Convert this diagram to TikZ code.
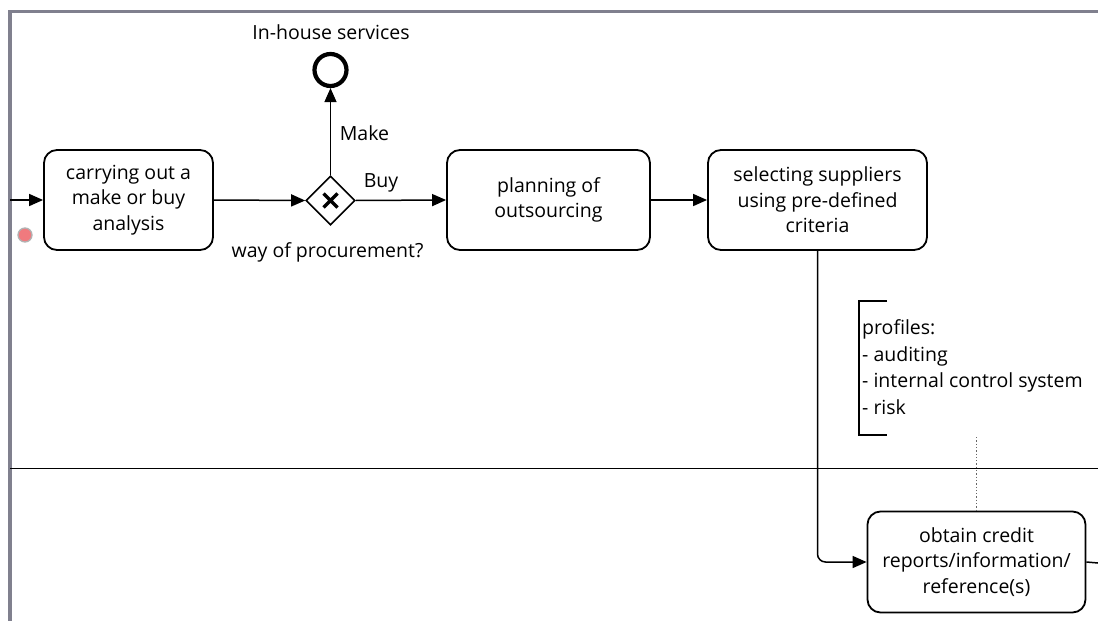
\documentclass[tikz,border=0pt]{standalone}
\usepackage{fontspec}
\setmainfont{Open Sans}
\usetikzlibrary{arrows.meta,shapes.geometric,positioning,calc}
\definecolor{poolgray}{HTML}{80808E}
\definecolor{loopred}{HTML}{F07A7E}
\begin{document}
\begin{tikzpicture}[x=1pt,y=-1pt,
  task/.style={draw,rounded corners=13pt,line width=1.8pt,align=center,
    inner sep=0pt,font=\fontsize{19.5}{25.5}\selectfont},
  flow/.style={line width=1.5pt,-{Triangle[length=14pt,width=12pt]}},
  lbl/.style={font=\fontsize{19.5}{25}\selectfont,inner sep=0pt},
]
\useasboundingbox (0,0) rectangle (1098,621);
% pool frame
\draw[poolgray,line width=3.5pt] (10,621) -- (10,11.5) -- (1098,11.5);
% lane divider
\draw[line width=1.7pt] (10,468.5) -- (1098,468.5);

% tasks
\node[task,minimum width=169pt,minimum height=100pt] (t1) at (128.5,200)
  {carrying out a\\make or buy\\analysis};
\node[task,minimum width=203pt,minimum height=100pt] (t2) at (548.5,200)
  {planning of\\outsourcing};
\node[task,minimum width=219pt,minimum height=100pt] (t3) at (817.5,200)
  {selecting suppliers\\using pre-defined\\criteria};
\node[task,minimum width=218pt,minimum height=101pt] (t4) at (976.5,562)
  {obtain credit\\reports/information/\\reference(s)};

% gateway
\node[draw,diamond,line width=1.6pt,minimum width=49pt,minimum height=49pt,inner sep=0pt] (gw) at (330.5,200.5) {};
\draw[line width=3.4pt] ($(gw.center)+(-7,-7)$) -- ($(gw.center)+(7,7)$)
  ($(gw.center)+(-7,7)$) -- ($(gw.center)+(7,-7)$);

% end event
\node[draw,circle,line width=4.2pt,minimum size=32pt,inner sep=0pt] (end) at (330.5,70) {};

% loop marker
\node[circle,fill=loopred,draw=gray!60,line width=1.3pt,minimum size=14pt,inner sep=0pt] (loop) at (25,235) {};

% labels
\node[lbl] (inh) at (331,32) {In-house services};
\node[lbl] (make) at (364.5,133) {Make};
\node[lbl] (buy) at (381,183) {Buy};
\node[lbl] (wop) at (327.5,252) {way of procurement?};

% annotation
\coordinate (anT) at (887,301);
\coordinate (anB) at (887,435);
\draw[line width=1.5pt] (anT) -- (859,301) -- (859,435) -- (anB);
\node[anchor=west,align=left,inner sep=0pt,font=\fontsize{19.5}{26.5}\selectfont] (ann) at (862,367)
  {profiles:\\- auditing\\- internal control system\\- risk};
\coordinate (dotT) at (976.5,437);
\draw[line width=1.3pt,dotted,gray!80!black] (dotT) -- (t4.north);

% connectors
\coordinate (inL) at (10,200);
\coordinate (outR) at (1098,563);
\draw[flow] (inL) -- (t1.west);
\draw[flow] (t1.east) -- (gw.west);
\draw[flow] (gw.east) -- (t2.west);
\draw[flow] (gw.north) -- (end.south);
\draw[flow] (t2.east) -- (t3.west);
\draw[flow,rounded corners=8pt] (t3.south) |- (t4.west);
\draw[line width=1.5pt] (t4.east) -- (outR);
\end{tikzpicture}
\end{document}
